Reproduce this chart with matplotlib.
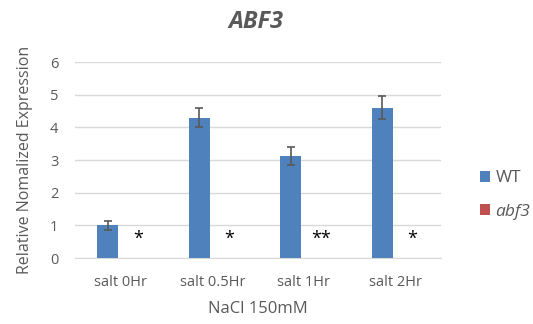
import matplotlib
matplotlib.use("Agg")
import matplotlib.pyplot as plt
import numpy as np

categories = ["salt 0Hr", "salt 0.5Hr", "salt 1Hr", "salt 2Hr"]
wt_values = [1.0, 4.3, 3.12, 4.6]
wt_errors = [0.13, 0.3, 0.28, 0.35]
abf3_values = [0.0, 0.0, 0.0, 0.0]
abf3_errors = [0.0, 0.0, 0.0, 0.0]
significance = ["*", "*", "**", "*"]
yticks = [0, 1, 2, 3, 4, 5, 6]

plt.rcParams['font.family'] = ['Open Sans', 'DejaVu Sans']
txt = '#595959'

fig = plt.figure(figsize=(5.33, 3.24), dpi=100)
ax = fig.add_axes([75/533, 1-258/324, (441-75)/533, (258-62)/324])

x = np.arange(len(categories))
w = 0.23
ax.bar(x - 0.14, wt_values, w, color='#4F81BD', label='WT', zorder=3,
       yerr=wt_errors, error_kw=dict(ecolor='#595959', elinewidth=1.2, capsize=3, capthick=1.2))
ax.bar(x + 0.14, abf3_values, w, color='#C0504D', label='abf3', zorder=3)

for xi, s in zip(x, significance):
    ax.text(xi + 0.19, 0.3, s, ha='center', va='bottom', fontsize=13, color='black')

ax.set_xlim(-0.5, 3.5)
ax.set_ylim(0, 6)
ax.set_yticks(yticks)
ax.set_xticks(x)
ax.set_xticklabels(categories)
ax.tick_params(axis='both', length=0, labelsize=10.5, colors=txt, pad=12)
ax.tick_params(axis='y', pad=12)
ax.grid(axis='y', color='#D9D9D9', linewidth=1, zorder=0)
for sp in ['top', 'right', 'left']:
    ax.spines[sp].set_visible(False)
ax.spines['bottom'].set_color('#D9D9D9')

ax.set_xlabel('NaCl 150mM', fontsize=12, color=txt, labelpad=8)
ax.set_ylabel('Relative Nomalized Expression', fontsize=11.5, color=txt, labelpad=12)
fig.text(256/533, 1-22/324, 'ABF3', ha='center', va='center', fontsize=17,
         fontstyle='italic', fontweight='bold', color=txt)

leg = fig.legend(loc='center left', bbox_to_anchor=(464/533, 1-195/324), frameon=False,
                 fontsize=12.5, handlelength=0.6, handleheight=0.6, labelspacing=1.0,
                 handletextpad=0.3, labelcolor=txt)
leg.get_texts()[1].set_fontstyle('italic')

fig.savefig('out.png', dpi=100, facecolor='white')
